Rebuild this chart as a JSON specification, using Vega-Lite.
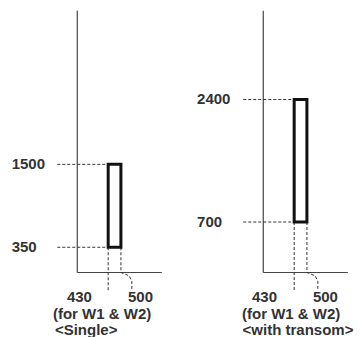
{
  "$schema": "https://vega.github.io/schema/vega-lite/v6.json",
  "padding": 0,
  "spacing": 12,
  "data": {
    "values": [
      {"panel": "Single", "kind": "axis", "x": 260, "x2": 260, "y": 0, "y2": 3630},
      {"panel": "Single", "kind": "axis", "x": 260, "x2": 725, "y": 0, "y2": 0},
      {"panel": "Single", "kind": "bar", "x": 430, "x2": 500, "y": 350, "y2": 1500},
      {"panel": "Single", "kind": "dash", "path": "h1", "o": 1, "x": 150, "y": 1500},
      {"panel": "Single", "kind": "dash", "path": "h1", "o": 2, "x": 430, "y": 1500},
      {"panel": "Single", "kind": "dash", "path": "h2", "o": 1, "x": 150, "y": 350},
      {"panel": "Single", "kind": "dash", "path": "h2", "o": 2, "x": 430, "y": 350},
      {"panel": "Single", "kind": "dash", "path": "v1", "o": 1, "x": 430, "y": 350},
      {"panel": "Single", "kind": "dash", "path": "v1", "o": 2, "x": 430, "y": -250},
      {"panel": "Single", "kind": "dash", "path": "v2", "o": 1, "x": 500, "y": 350},
      {"panel": "Single", "kind": "dash", "path": "v2", "o": 2, "x": 500, "y": 0},
      {"panel": "Single", "kind": "dash", "path": "v2", "o": 3, "x": 545, "y": -45},
      {"panel": "Single", "kind": "dash", "path": "v2", "o": 4, "x": 560, "y": -120},
      {"panel": "Single", "kind": "dash", "path": "v2", "o": 5, "x": 560, "y": -250},
      {"panel": "Single", "kind": "text", "x": -101, "y": 1500, "label": "1500"},
      {"panel": "Single", "kind": "text", "x": -101, "y": 350, "label": "350"},
      {"panel": "Single", "kind": "text", "x": 203, "y": -347, "label": "430"},
      {"panel": "Single", "kind": "text", "x": 539, "y": -347, "label": "500"},
      {"panel": "Single", "kind": "text", "x": 126, "y": -569, "label": "(for W1 & W2)"},
      {"panel": "Single", "kind": "text", "x": 137, "y": -791, "label": "<Single>"},
      {"panel": "with transom", "kind": "axis", "x": 260, "x2": 260, "y": 0, "y2": 3630},
      {"panel": "with transom", "kind": "axis", "x": 260, "x2": 725, "y": 0, "y2": 0},
      {"panel": "with transom", "kind": "bar", "x": 430, "x2": 500, "y": 700, "y2": 2400},
      {"panel": "with transom", "kind": "dash", "path": "h1", "o": 1, "x": 150, "y": 2400},
      {"panel": "with transom", "kind": "dash", "path": "h1", "o": 2, "x": 430, "y": 2400},
      {"panel": "with transom", "kind": "dash", "path": "h2", "o": 1, "x": 150, "y": 700},
      {"panel": "with transom", "kind": "dash", "path": "h2", "o": 2, "x": 430, "y": 700},
      {"panel": "with transom", "kind": "dash", "path": "v1", "o": 1, "x": 430, "y": 700},
      {"panel": "with transom", "kind": "dash", "path": "v1", "o": 2, "x": 430, "y": -250},
      {"panel": "with transom", "kind": "dash", "path": "v2", "o": 1, "x": 500, "y": 700},
      {"panel": "with transom", "kind": "dash", "path": "v2", "o": 2, "x": 500, "y": 0},
      {"panel": "with transom", "kind": "dash", "path": "v2", "o": 3, "x": 545, "y": -45},
      {"panel": "with transom", "kind": "dash", "path": "v2", "o": 4, "x": 560, "y": -120},
      {"panel": "with transom", "kind": "dash", "path": "v2", "o": 5, "x": 560, "y": -250},
      {"panel": "with transom", "kind": "text", "x": -104, "y": 2400, "label": "2400"},
      {"panel": "with transom", "kind": "text", "x": -104, "y": 700, "label": "700"},
      {"panel": "with transom", "kind": "text", "x": 198, "y": -347, "label": "430"},
      {"panel": "with transom", "kind": "text", "x": 533, "y": -347, "label": "500"},
      {"panel": "with transom", "kind": "text", "x": 143, "y": -569, "label": "(for W1 & W2)"},
      {"panel": "with transom", "kind": "text", "x": 146, "y": -791, "label": "<with transom>"}
    ]
  },
  "facet": {
    "column": {"field": "panel", "type": "nominal", "sort": ["Single", "with transom"], "header": null}
  },
  "spec": {
    "width": 174,
    "height": 337,
    "layer": [
      {
        "transform": [{"filter": "datum.kind === 'axis'"}],
        "mark": {"type": "rule", "color": "#444", "strokeWidth": 1.2},
        "encoding": {
          "x": {"field": "x", "type": "quantitative", "scale": {"domain": [-165, 792], "zero": false, "nice": false}, "axis": null},
          "x2": {"field": "x2"},
          "y": {"field": "y", "type": "quantitative", "scale": {"domain": [-895, 3780], "zero": false, "nice": false}, "axis": null},
          "y2": {"field": "y2"}
        }
      },
      {
        "transform": [{"filter": "datum.kind === 'dash'"}],
        "mark": {"type": "line", "color": "#333", "strokeWidth": 1, "strokeDash": [3, 2]},
        "encoding": {
          "x": {"field": "x", "type": "quantitative"},
          "y": {"field": "y", "type": "quantitative"},
          "detail": {"field": "path", "type": "nominal"},
          "order": {"field": "o", "type": "quantitative"}
        }
      },
      {
        "transform": [{"filter": "datum.kind === 'bar'"}],
        "mark": {"type": "rect", "fill": "white", "stroke": "#111", "strokeWidth": 3},
        "encoding": {
          "x": {"field": "x", "type": "quantitative"},
          "x2": {"field": "x2"},
          "y": {"field": "y", "type": "quantitative"},
          "y2": {"field": "y2"}
        }
      },
      {
        "transform": [{"filter": "datum.kind === 'text'"}],
        "mark": {"type": "text", "align": "left", "baseline": "middle", "font": "Liberation Sans", "fontWeight": "bold", "fontSize": 15, "color": "#333"},
        "encoding": {
          "x": {"field": "x", "type": "quantitative"},
          "y": {"field": "y", "type": "quantitative"},
          "text": {"field": "label"}
        }
      }
    ]
  },
  "config": {"view": {"stroke": null}}
}
